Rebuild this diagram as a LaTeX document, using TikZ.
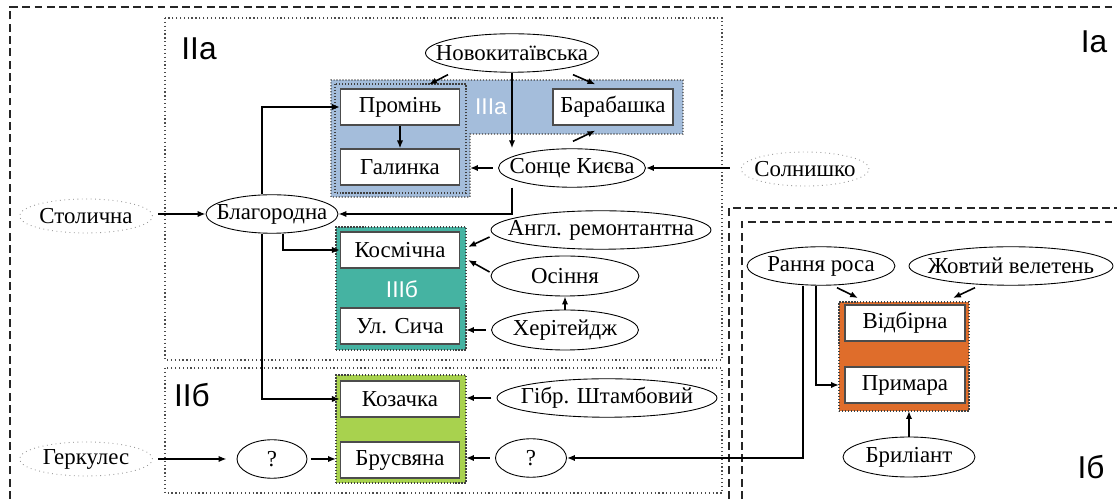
\documentclass[tikz,border=0pt]{standalone}
\usepackage{fontspec}
\setmainfont{Liberation Serif}
\newfontfamily\zonesans{Liberation Sans}
\usetikzlibrary{shapes.geometric,arrows.meta}

\definecolor{groupblue}{HTML}{A4BDDB}
\definecolor{groupteal}{HTML}{45B3A2}
\definecolor{groupgreen}{HTML}{A8D24E}
\definecolor{grouporange}{HTML}{DF6D2B}

\newcommand{\sortfont}{\fontsize{13}{15}\selectfont}

\tikzset{
    sort/.style={draw, ellipse, inner xsep=-0.6cm, inner ysep=0pt, minimum height=0.77cm, line width=0.5pt, font=\sortfont},
    parent/.style={sort, draw=gray!80, dotted, minimum height=0.68cm},
    cultivar/.style={draw=black!70, fill=white, line width=0.7pt, minimum width=2.38cm, minimum height=0.72cm, inner sep=0pt, font=\sortfont},
    group/.style={inner sep=0pt, outer sep=0pt},
    groupline/.style={draw=black!75, line width=0.6pt, dash pattern=on 0.7pt off 1pt},
    zonebox/.style={draw=black!70, line width=0.6pt, dash pattern=on 0.7pt off 1.5pt},
    frame/.style={draw=black!85, line width=0.6pt, dash pattern=on 4.5pt off 2.5pt},
    zone/.style={font=\zonesans\fontsize{18}{20}\selectfont},
    subzone/.style={text=white, font=\zonesans\fontsize{13}{15}\selectfont},
    link/.style={-{Latex[length=4.5pt,width=3.6pt]}, line width=0.9pt}
}

\begin{document}
\begin{tikzpicture}[x=0.02cm, y=-0.02cm]
        \useasboundingbox (0,0) rectangle (1117,499);
        \draw[frame] (10,499) -- (10,7) -- (1117,7);
        \draw[frame] (729,499) -- (729,208) -- (1117,208);
        \draw[frame] (742,499) -- (742,222) -- (1117,222);
        \draw[zonebox] (165,18) rectangle (722,360);
        \draw[zonebox] (165,368) rectangle (722,493);
        \node[zone] at (199,49) {IIa};
        \node[zone] at (1094,42) {Ia};
        \node[zone] at (192,395) {IIб};
        \node[zone] at (1091,467) {Iб};

        \node[group, fill=groupblue, minimum width=2.78cm, minimum height=2.34cm] (blueL) at (400.5,138.5) {};
        \node[group, fill=groupblue, minimum width=4.26cm, minimum height=1.08cm] (blueR) at (576.5,107) {};
        \draw[groupline] (blueL.south west) -- (blueL.north west) -- (blueR.north east) -- (blueR.south east) -- (blueR.south west) -- (blueL.south east) -- cycle;
        \draw[groupline] (335,84) rectangle (466,193);
        \node[group, fill=groupteal, groupline, minimum width=2.6cm, minimum height=2.46cm] (grpb) at (401,288.5) {};
        \node[group, fill=groupgreen, groupline, minimum width=2.6cm, minimum height=2.16cm] (grpk) at (401,429) {};
        \node[group, fill=grouporange, groupline, minimum width=2.6cm, minimum height=2.18cm] (grpo) at (904,356.5) {};
        \node[subzone] at (491,107) {IIIa};
        \node[subzone] at (402,289) {IIIб};

        \node[cultivar] (prom) at (400,107) {Промінь};
        \node[cultivar] (gal) at (400,167) {Галинка};
        \node[cultivar, minimum width=2.4cm] (barab) at (613,107) {Барабашка};
        \node[cultivar] (kosm) at (400,250) {Космічна};
        \node[cultivar] (sych) at (400,326) {Ул. Сича};
        \node[cultivar] (koz) at (400,399) {Козачка};
        \node[cultivar] (brus) at (400,460) {Брусвяна};
        \node[cultivar, minimum width=2.4cm] (vidb) at (905,323) {Відбірна};
        \node[cultivar, minimum width=2.4cm] (prym) at (905,385) {Примара};

        \node[sort, minimum width=3.46cm] (nov) at (512,53) {Новокитаївська};
        \node[sort, minimum width=2.94cm] (sonce) at (572,168) {Сонце Києва};
        \node[parent, minimum width=2.56cm] (soln) at (805,169) {Солнишко};
        \node[parent, minimum width=2.66cm] (stol) at (86,216) {Столична};
        \node[sort, minimum width=2.64cm] (blag) at (272,214) {Благородна};
        \node[sort, minimum width=4.4cm] (angl) at (601,230) {Англ. ремонтантна};
        \node[sort, minimum width=2.96cm, minimum height=0.8cm] (osin) at (565,276) {Осіння};
        \node[sort, minimum width=2.94cm, minimum height=0.8cm] (herit) at (565,330) {Херітейдж};
        \node[sort, minimum width=4.4cm] (gibr) at (607,398) {Гібр. Штамбовий};
        \node[sort, minimum width=1.42cm] (qr) at (531,458) {?};
        \node[sort, minimum width=1.4cm] (ql) at (272,459) {?};
        \node[parent, minimum width=2.66cm] (gerk) at (86,459) {Геркулес};
        \node[sort, minimum width=2.96cm] (rannya) at (821,266) {Рання роса};
        \node[sort, minimum width=4.08cm] (zhovt) at (1011,266) {Жовтий велетень};
        \node[sort, minimum width=2.64cm, minimum height=0.8cm] (bril) at (909,457) {Брилiант};

        \draw[link] ([shift={(-64,2)}]nov.south) -- ([shift={(-31,-4)}]prom.north east);
        \draw[link] ([shift={(61,2)}]nov.south) -- ([shift={(43,-4)}]barab.north west);
        \draw[link] (nov.south) -- (nov.south |- sonce.north);
        \draw[link] ([shift={(1,-7)}]sonce.north) -- ([shift={(43,5)}]barab.south west);
        \draw[link, shorten <=3pt] (sonce.west) -- (sonce.west -| blueL.east);
        \draw[link, shorten <=0.22cm] (soln.west |- sonce.east) -- (sonce.east);
        \draw[link] (nov.south |- sonce.south) |- (blag.east);
        \draw[link, shorten <=3pt] (stol.east |- blag.west) -- (blag.west);
        \draw[link] ([shift={(-10,0)}]blag.north) |- (prom.west);
        \draw[link] ([shift={(11,0)}]blag.south) |- (kosm.west);
        \draw[link] ([shift={(-10,0)}]blag.south) |- (koz.west);
        \draw[link] (prom.south) -- (gal.north);
        \draw[link] ([shift={(-1,7)}]angl.west) -- ([shift={(8,-3)}]kosm.east);
        \draw[link] ([shift={(-1,-4)}]osin.west) -- ([shift={(8,10)}]kosm.east);
        \draw[link] (herit.north) -- (osin.south);
        \draw[link, shorten <=3pt] (herit.west) -- (herit.west -| grpb.east);
        \draw[link, shorten <=3pt] (gibr.west) -- (gibr.west -| grpk.east);
        \draw[link, shorten <=3pt] (qr.west) -- (qr.west -| grpk.east);
        \draw[link, shorten <=2pt] (ql.east) -- (ql.east -| grpk.west);
        \draw[link, shorten <=3pt, shorten >=0.2cm] (gerk.east |- ql.west) -- (ql.west);
        \draw[link] ([shift={(-18,0)}]rannya.south) |- (qr.east);
        \draw[link] ([shift={(-5,0)}]rannya.south) |- (grpo.west |- prym);
        \draw[link] ([shift={(16,2)}]rannya.south) -- ([shift={(19,-4)}]grpo.north west);
        \draw[link] ([shift={(-36,2)}]zhovt.south) -- ([shift={(-16,-4)}]grpo.north east);
        \draw[link] (bril.north) -- (bril.north |- grpo.south);
\end{tikzpicture}
\end{document}
